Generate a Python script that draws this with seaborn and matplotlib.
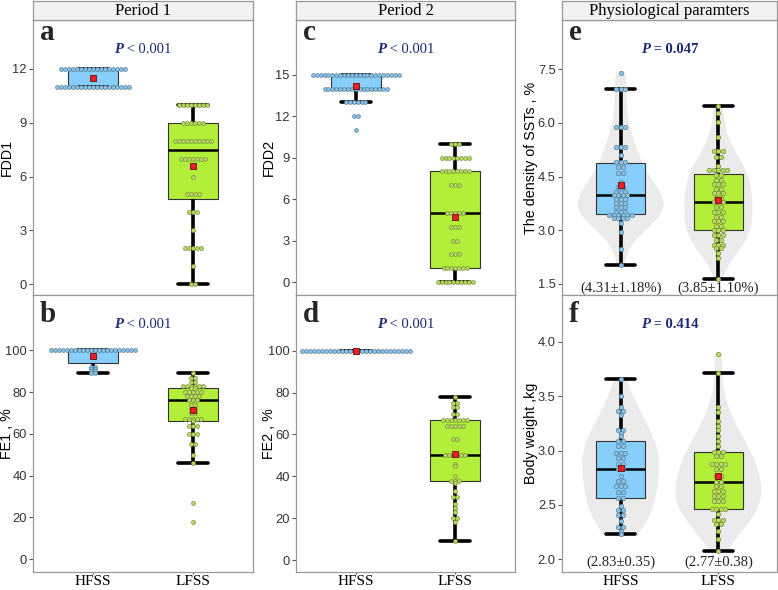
import numpy as np
import pandas as pd
import matplotlib
matplotlib.use("Agg")
import matplotlib.pyplot as plt
from matplotlib.transforms import offset_copy
import seaborn as sns

# ---------------- data ----------------
groups = ["HFSS", "LFSS"]
col_titles = ["Period 1", "Period 2", "Physiological paramters"]
letters = ["a", "b", "c", "d", "e", "f"]
ylabels = ["FDD1", "FE1 , %", "FDD2", "FE2 , %", "The density of SSTs , %", "Body weight ,kg"]
p_labels = ["< 0.001", "< 0.001", "< 0.001", "< 0.001", "= 0.047", "= 0.414"]
notes_e = ["(4.31\u00b11.18%)", "(3.85\u00b11.10%)"]
notes_f = ["(2.83\u00b10.35)", "(2.77\u00b10.38)"]

yticks_a = [0, 3, 6, 9, 12]
yticks_b = [0, 20, 40, 60, 80, 100]
yticks_c = [0, 3, 6, 9, 12, 15]
yticks_d = [0, 20, 40, 60, 80, 100]
yticks_e = [1.5, 3.0, 4.5, 6.0, 7.5]
yticks_f = [2.0, 2.5, 3.0, 3.5, 4.0]

a_hfss_vals = [12, 11]
a_hfss_counts = [17, 19]
a_lfss_vals = [10, 9, 8, 7, 6, 5, 4, 3, 2, 1, 0]
a_lfss_counts = [8, 6, 10, 7, 1, 4, 3, 1, 5, 1, 2]

b_hfss_vals = [100, 92, 91, 90, 89]
b_hfss_counts = [22, 2, 2, 2, 2]
b_lfss_vals = [89, 87, 85, 83, 82, 80, 78, 76, 74, 72, 70, 67, 66, 64, 60, 55, 50, 46, 27, 18]
b_lfss_counts = [1, 2, 2, 6, 2, 5, 4, 3, 2, 2, 2, 5, 1, 3, 3, 2, 1, 1, 1, 1]

c_hfss_vals = [15, 14, 13, 12, 11]
c_hfss_counts = [23, 17, 6, 2, 1]
c_lfss_vals = [10, 9, 8, 7, 5, 4, 3, 2, 1, 0]
c_lfss_counts = [3, 8, 8, 3, 5, 3, 2, 3, 7, 10]

d_hfss_vals = [100]
d_hfss_counts = [28]
d_lfss_vals = [78, 75, 73, 70, 67, 64, 58, 50, 46, 45, 40, 38, 37, 33, 30, 27, 25, 23, 20, 18, 9]
d_lfss_counts = [1, 2, 2, 2, 7, 5, 2, 6, 1, 1, 1, 3, 1, 1, 2, 1, 1, 1, 2, 1, 1]

e_hfss_vals = [7.39, 6.94, 5.90, 5.34, 5.10, 4.90, 4.78, 4.59, 4.36, 4.22, 4.08, 3.99, 3.87,
               3.75, 3.64, 3.52, 3.43, 3.34, 3.21, 2.96, 2.47, 2.03]
e_hfss_counts = [1, 3, 3, 3, 1, 3, 2, 2, 1, 2, 3, 4, 3, 3, 3, 3, 6, 4, 1, 1, 1, 1]
e_lfss_vals = [6.47, 6.27, 6.04, 5.62, 5.23, 5.06, 4.81, 4.69, 4.55, 4.41, 4.29, 4.15, 4.03, 3.89,
               3.78, 3.64, 3.52, 3.38, 3.27, 3.13, 3.01, 2.87, 2.73, 2.59, 2.50, 2.36, 2.22, 1.63]
e_lfss_counts = [1, 1, 1, 1, 3, 2, 1, 5, 2, 2, 3, 2, 3, 2, 3, 2, 3, 2, 3, 2, 3, 3, 2, 3, 2, 1, 1, 1]

f_hfss_vals = [3.66, 3.50, 3.40, 3.36, 3.33, 3.19, 3.16, 3.13, 3.09, 3.04, 2.98, 2.93, 2.88,
               2.83, 2.77, 2.72, 2.67, 2.62, 2.56, 2.49, 2.45, 2.41, 2.35, 2.30, 2.26, 2.23]
f_hfss_counts = [1, 1, 1, 2, 1, 2, 1, 1, 2, 2, 3, 2, 2, 2, 1, 2, 3, 2, 2, 1, 2, 2, 1, 2, 1, 1]
f_lfss_vals = [3.89, 3.71, 3.40, 3.35, 3.27, 3.23, 3.19, 3.13, 3.09, 3.04, 2.99, 2.95, 2.88, 2.83,
               2.77, 2.71, 2.67, 2.63, 2.58, 2.54, 2.46, 2.42, 2.36, 2.32, 2.26, 2.19, 2.08]
f_lfss_counts = [1, 1, 1, 1, 1, 1, 1, 1, 1, 1, 3, 2, 4, 2, 2, 2, 2, 3, 3, 3, 4, 1, 3, 2, 1, 1, 1]

# ---------------- style ----------------
sns.set_style("white")
plt.rcParams["font.family"] = ["Liberation Sans", "DejaVu Sans"]
SERIF = ["Liberation Serif", "DejaVu Serif"]
BOX_COLORS = {"HFSS": "#87CEFA", "LFSS": "#B3EE3A"}
DOT_FACE = {"HFSS": "#8DBFDF", "LFSS": "#B9D766"}
DOT_EDGE = {"HFSS": "#4F7F9E", "LFSS": "#6F8F2E"}
FRAME = "#9A9A9A"
PCOL = "#1C2873"

FIG_W, FIG_H = 778, 590
fig = plt.figure(figsize=(FIG_W / 100, FIG_H / 100), dpi=100)

col_x = [(33, 253), (296, 515), (562, 777)]
row_y = [(20, 295), (295, 572)]


def fig_rect(x0, x1, y0, y1):
    return [x0 / FIG_W, 1 - y1 / FIG_H, (x1 - x0) / FIG_W, (y1 - y0) / FIG_H]


panels = [
    dict(col=0, row=0, h=(a_hfss_vals, a_hfss_counts), l=(a_lfss_vals, a_lfss_counts),
         ylim=(-0.61, 14.73), yticks=yticks_a, fmt="{:.0f}", violin=False, dot_px=4.0, notes=None),
    dict(col=0, row=1, h=(b_hfss_vals, b_hfss_counts), l=(b_lfss_vals, b_lfss_counts),
         ylim=(-6.1, 126.5), yticks=yticks_b, fmt="{:.0f}", violin=False, dot_px=4.0, notes=None),
    dict(col=1, row=0, h=(c_hfss_vals, c_hfss_counts), l=(c_lfss_vals, c_lfss_counts),
         ylim=(-0.94, 18.96), yticks=yticks_c, fmt="{:.0f}", violin=False, dot_px=3.9, notes=None),
    dict(col=1, row=1, h=(d_hfss_vals, d_hfss_counts), l=(d_lfss_vals, d_lfss_counts),
         ylim=(-5.7, 126.6), yticks=yticks_d, fmt="{:.0f}", violin=False, dot_px=4.0, notes=None),
    dict(col=2, row=0, h=(e_hfss_vals, e_hfss_counts), l=(e_lfss_vals, e_lfss_counts),
         ylim=(1.19, 8.88), yticks=yticks_e, fmt="{:.1f}", violin=True, dot_px=4.5, notes=notes_e),
    dict(col=2, row=1, h=(f_hfss_vals, f_hfss_counts), l=(f_lfss_vals, f_lfss_counts),
         ylim=(1.883, 4.43), yticks=yticks_f, fmt="{:.1f}", violin=True, dot_px=4.5, notes=notes_f),
]
label_x = [-0.119, -0.125, -0.145]
note_y = [0.024, 0.034]

ptexts = []
for i, pnl in enumerate(panels):
    x0, x1 = col_x[pnl["col"]]
    y0, y1 = row_y[pnl["row"]]
    ax = fig.add_axes(fig_rect(x0, x1, y0, y1))
    ax_w_px = x1 - x0
    ax_h_px = y1 - y0

    hv, hc = pnl["h"]
    lv, lc = pnl["l"]
    df = pd.DataFrame({
        "group": np.repeat(groups, [sum(hc), sum(lc)]),
        "value": np.concatenate([np.repeat(hv, hc), np.repeat(lv, lc)]).astype(float),
    })

    if pnl["violin"]:
        sns.violinplot(data=df, x="group", y="value", order=groups, color="#EBEBEB",
                       inner=None, cut=0, linewidth=0, width=0.88, bw_method="silverman",
                       density_norm="area", saturation=1, ax=ax)
        for coll in ax.collections:
            coll.set_edgecolor("none")
            coll.set_zorder(0.5)

    sns.boxplot(data=df, x="group", y="value", hue="group", order=groups, hue_order=groups,
                palette=BOX_COLORS, legend=False, width=0.5, whis=1.5, showfliers=False,
                saturation=1, linecolor="#333333", linewidth=0.8, ax=ax,
                whiskerprops=dict(color="black", linewidth=2.6),
                capprops=dict(color="black", linewidth=2.6),
                medianprops=dict(color="black", linewidth=1.8),
                capwidths=0.3)

    # centred dot stacks
    dx = pnl["dot_px"] / (ax_w_px / 2.2)
    s = (pnl["dot_px"] * 0.72) ** 2
    for pos, g, (vals, cnts) in [(0, "HFSS", (hv, hc)), (1, "LFSS", (lv, lc))]:
        xs, ys = [], []
        for v, c in zip(vals, cnts):
            offs = (np.arange(c) - (c - 1) / 2) * dx
            xs.extend(pos + offs)
            ys.extend([v] * c)
        ax.scatter(xs, ys, s=s, facecolor=DOT_FACE[g], edgecolor=DOT_EDGE[g],
                   linewidth=0.45, zorder=4)
        gvals = df.loc[df["group"] == g, "value"]
        ax.scatter([pos], [gvals.mean()], marker="s", s=21, facecolor="#E8202A",
                   edgecolor="#6B0A0A", linewidth=0.6, zorder=6)

    ax.set_xlim(-0.6, 1.6)
    ax.set_ylim(*pnl["ylim"])
    ax.set_yticks(pnl["yticks"])
    ax.set_yticklabels([pnl["fmt"].format(t) for t in pnl["yticks"]])
    ax.tick_params(axis="y", left=True, length=3, width=0.8, color="#555555",
                   labelsize=9.3, labelcolor="#333333", pad=1.5)
    ax.set_xticks([0, 1])
    if pnl["row"] == 1:
        ax.set_xticklabels(groups, fontfamily=SERIF, fontsize=11, color="black")
        ax.tick_params(axis="x", bottom=True, length=1.5, width=0.8, color="#555555", pad=0.8)
    else:
        ax.tick_params(axis="x", bottom=False, labelbottom=False)
    ax.set_xlabel("")
    ax.set_ylabel(ylabels[i], fontsize=10.3, color="black")
    ax.yaxis.label.set_va("center")
    ax.yaxis.set_label_coords(label_x[pnl["col"]], 0.5)
    ax.grid(False)
    for sp in ax.spines.values():
        sp.set_visible(True)
        sp.set_color(FRAME)
        sp.set_linewidth(0.9)

    # panel letter
    base_off = 20 if pnl["row"] == 0 else 27
    ax.text(7 / ax_w_px, 1 - base_off / ax_h_px, letters[i], transform=ax.transAxes,
            ha="left", va="baseline", fontfamily=SERIF, fontsize=21, fontweight="bold")

    # P value
    py = 1 - 33 / ax_h_px
    bold = pnl["col"] == 2
    t1 = ax.text(0.5, py, "P", transform=ax.transAxes, ha="left", va="baseline",
                 fontfamily=SERIF, fontsize=10.5, fontstyle="italic", fontweight="bold", color=PCOL)
    t2 = ax.annotate(" " + p_labels[i], xy=(1, 0), xycoords=t1, ha="left", va="bottom",
                     fontfamily=SERIF, fontsize=10.5, fontweight="bold" if bold else "normal",
                     color=PCOL)
    ptexts.append((ax, t1, t2, py))

    if pnl["notes"] is not None:
        for pos, txt in enumerate(pnl["notes"]):
            ax.text(pos, note_y[pnl["row"]], txt, transform=ax.get_xaxis_transform(),
                    ha="center", va="center", fontfamily=SERIF, fontsize=10.5, color="#222222")

# strip headers
for c, title in enumerate(col_titles):
    x0, x1 = col_x[c]
    sax = fig.add_axes(fig_rect(x0, x1, 1, 20))
    sax.set_facecolor("#F2F2F2")
    sax.set_xticks([])
    sax.set_yticks([])
    for sp in sax.spines.values():
        sp.set_visible(True)
        sp.set_color(FRAME)
        sp.set_linewidth(0.9)
    sax.text(0.5, 0.45, title, transform=sax.transAxes, ha="center", va="center",
             fontfamily=SERIF, fontsize=12, color="black")

# centre the two-part P labels
fig.canvas.draw()
r = fig.canvas.get_renderer()
for ax, t1, t2, py in ptexts:
    w = t1.get_window_extent(r).width + t2.get_window_extent(r).width
    t1.set_transform(offset_copy(ax.transAxes, fig=fig, x=-w / 2, y=0, units="dots"))

fig.savefig("out.png", dpi=100)
